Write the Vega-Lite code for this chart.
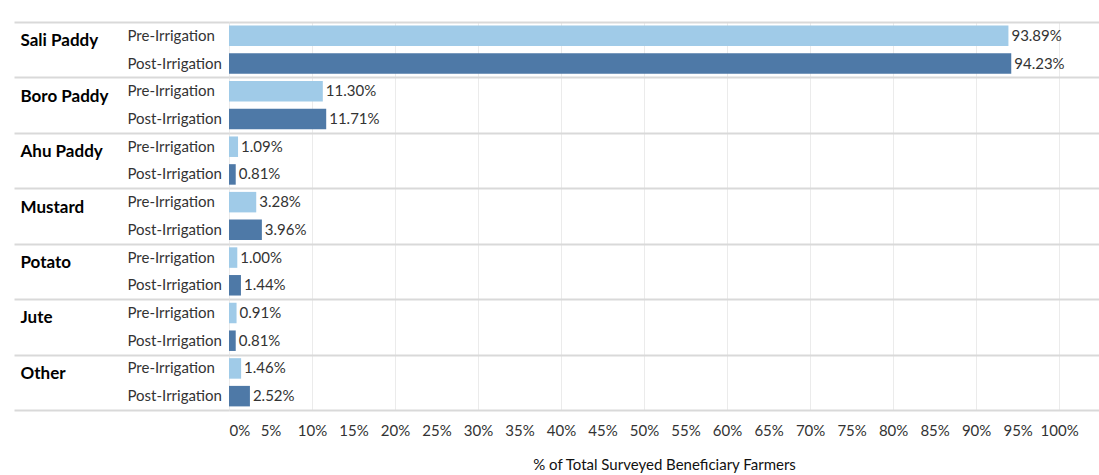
{
  "$schema": "https://vega.github.io/schema/vega-lite/v6.json",
  "width": 870,
  "height": 388,
  "autosize": {"type": "none"},
  "padding": {"left": 229, "top": 22, "right": 0, "bottom": 65},
  "background": "white",
  "config": {"view": {"stroke": null}, "font": "Lato"},
  "data": {
    "values": [
      {"crop": "Sali Paddy", "period": "Pre-Irrigation", "key": "Sali Paddy|Pre-Irrigation", "value": 93.89, "label": "93.89%"},
      {"crop": "Sali Paddy", "period": "Post-Irrigation", "key": "Sali Paddy|Post-Irrigation", "value": 94.23, "label": "94.23%"},
      {"crop": "Boro Paddy", "period": "Pre-Irrigation", "key": "Boro Paddy|Pre-Irrigation", "value": 11.30, "label": "11.30%"},
      {"crop": "Boro Paddy", "period": "Post-Irrigation", "key": "Boro Paddy|Post-Irrigation", "value": 11.71, "label": "11.71%"},
      {"crop": "Ahu Paddy", "period": "Pre-Irrigation", "key": "Ahu Paddy|Pre-Irrigation", "value": 1.09, "label": "1.09%"},
      {"crop": "Ahu Paddy", "period": "Post-Irrigation", "key": "Ahu Paddy|Post-Irrigation", "value": 0.81, "label": "0.81%"},
      {"crop": "Mustard", "period": "Pre-Irrigation", "key": "Mustard|Pre-Irrigation", "value": 3.28, "label": "3.28%"},
      {"crop": "Mustard", "period": "Post-Irrigation", "key": "Mustard|Post-Irrigation", "value": 3.96, "label": "3.96%"},
      {"crop": "Potato", "period": "Pre-Irrigation", "key": "Potato|Pre-Irrigation", "value": 1.00, "label": "1.00%"},
      {"crop": "Potato", "period": "Post-Irrigation", "key": "Potato|Post-Irrigation", "value": 1.44, "label": "1.44%"},
      {"crop": "Jute", "period": "Pre-Irrigation", "key": "Jute|Pre-Irrigation", "value": 0.91, "label": "0.91%"},
      {"crop": "Jute", "period": "Post-Irrigation", "key": "Jute|Post-Irrigation", "value": 0.81, "label": "0.81%"},
      {"crop": "Other", "period": "Pre-Irrigation", "key": "Other|Pre-Irrigation", "value": 1.46, "label": "1.46%"},
      {"crop": "Other", "period": "Post-Irrigation", "key": "Other|Post-Irrigation", "value": 2.52, "label": "2.52%"}
    ]
  },
  "layer": [
    {
      "mark": {"type": "tick", "opacity": 0},
      "encoding": {
        "y": {
          "field": "crop", "type": "nominal", "sort": null,
          "scale": {"paddingInner": 0, "paddingOuter": 0},
          "axis": {
            "title": null, "orient": "left", "tickBand": "extent", "tickSize": 215,
            "tickColor": "#d9d9d9", "tickWidth": 2, "grid": true, "gridColor": "#d9d9d9", "gridWidth": 2,
            "domain": false, "labelAlign": "left", "labelPadding": -6, "labelBaseline": "middle",
            "labelOffset": -9, "labelFontSize": 17, "labelFontWeight": "bold", "labelColor": "#000"
          }
        }
      }
    },
    {
      "encoding": {
        "y": {
          "field": "key", "type": "nominal", "sort": null,
          "scale": {"paddingInner": 0.26, "paddingOuter": 0.13},
          "axis": {
            "title": null, "orient": "left", "labelExpr": "split(datum.label, '|')[1]", "ticks": false, "domain": false,
            "labelAlign": "left", "labelPadding": 102, "labelFontSize": 15, "labelColor": "#333", "grid": false
          }
        },
        "x": {
          "field": "value", "type": "quantitative",
          "scale": {"domain": [0, 104.8], "nice": false},
          "axis": {
            "values": [0, 5, 10, 15, 20, 25, 30, 35, 40, 45, 50, 55, 60, 65, 70, 75, 80, 85, 90, 95, 100],
            "labelExpr": "datum.value + '%'", "labelFlush": true,
            "grid": true, "gridColor": "#ebebeb", "gridWidth": 1,
            "gridOpacity": {"condition": {"test": "datum.value % 10 !== 0", "value": 0}, "value": 1},
            "ticks": false, "domain": false, "labelFontSize": 15, "labelColor": "#333", "labelPadding": 13,
            "title": "% of Total Surveyed Beneficiary Farmers", "titleFontSize": 15, "titleFontWeight": "normal",
            "titleColor": "#111", "titlePadding": 19
          }
        }
      },
      "layer": [
        {
          "mark": {"type": "bar"},
          "encoding": {
            "color": {
              "field": "period", "type": "nominal",
              "scale": {"domain": ["Pre-Irrigation", "Post-Irrigation"], "range": ["#a0cbe8", "#4e79a7"]},
              "legend": null
            }
          }
        },
        {
          "mark": {"type": "text", "align": "left", "dx": 3, "fontSize": 15, "color": "#333"},
          "encoding": {"text": {"field": "label"}}
        }
      ]
    }
  ],
  "resolve": {"scale": {"y": "independent"}, "axis": {"y": "independent"}}
}
